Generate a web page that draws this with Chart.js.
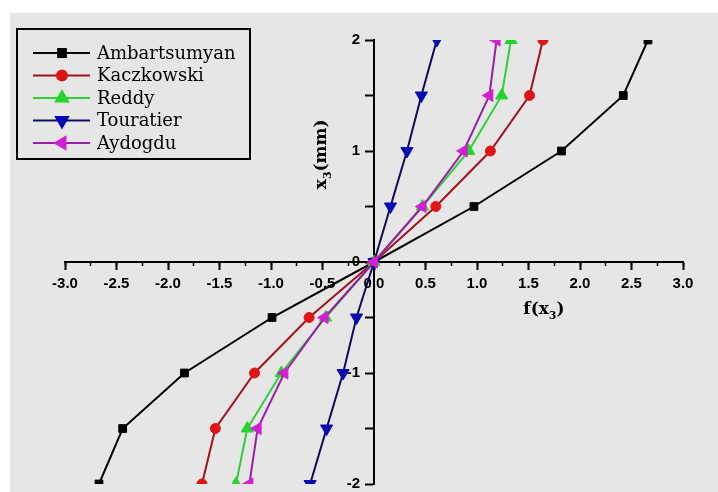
<!DOCTYPE html>
<html lang="en">
<head>
    <meta charset="UTF-8">
    <title>Bending function f(x3)</title>
    <style>
        html, body { margin: 0; padding: 0; background: #ffffff; }
        #wrap { position: relative; width: 718px; height: 492px; overflow: hidden; }
        #panel { position: absolute; left: 10px; top: 13px; right: 0; bottom: 0; background: #e6e6e6; }
        #plot { position: absolute; left: 0; top: 0; }
    </style>
</head>
<body>
<div id="wrap">
    <div id="panel"></div>
    <canvas id="plot" width="718" height="492"></canvas>
</div>

<script src="https://cdn.jsdelivr.net/npm/chart.js"></script>
<script>
    // thickness coordinate x3 (mm)
    const x3 = [-2, -1.5, -1, -0.5, 0, 0.5, 1, 1.5, 2];

    // shear shape function f(x3) for each theory
    const ambartsumyan = [-2.67, -2.44, -1.84, -0.99, 0, 0.97, 1.82, 2.42, 2.66];
    const kaczkowski   = [-1.67, -1.54, -1.16, -0.63, 0, 0.60, 1.13, 1.51, 1.64];
    const reddy        = [-1.34, -1.23, -0.90, -0.47, 0, 0.47, 0.92, 1.24, 1.33];
    const touratier    = [-0.62, -0.46, -0.30, -0.17, 0, 0.16, 0.32, 0.46, 0.61];
    const aydogdu      = [-1.21, -1.13, -0.87, -0.48, 0, 0.47, 0.87, 1.12, 1.19];

    const xTicks = [-3, -2.5, -2, -1.5, -1, -0.5, 0, 0.5, 1, 1.5, 2, 2.5, 3];
    const yLabelValues = [2, 1, 0, -1, -2];

    const toPoints = (xs) => xs.map((v, i) => ({ x: v, y: x3[i] }));

    const series = [
        { label: 'Ambartsumyan', data: ambartsumyan, line: '#000000', fill: '#000000', style: 'rect',     rot: 0,   r: 5.5, order: 5 },
        { label: 'Kaczkowski',   data: kaczkowski,   line: '#a0141e', fill: '#dd1515', style: 'circle',   rot: 0,   r: 5,   order: 4 },
        { label: 'Reddy',        data: reddy,        line: '#2fcf3a', fill: '#22d62a', style: 'triangle', rot: 0,   r: 7,   order: 3 },
        { label: 'Touratier',    data: touratier,    line: '#0c0c5c', fill: '#0808b4', style: 'triangle', rot: 180, r: 7,   order: 2 },
        { label: 'Aydogdu',      data: aydogdu,      line: '#9a1fa8', fill: '#d21fd2', style: 'triangle', rot: -90, r: 7,   order: 1 }
    ];

    const tickFont = { family: '"Liberation Sans", Arial, sans-serif', size: 15, weight: 'bold' };

    // boxed legend in the upper-left corner, line + marker + serif label
    const boxLegend = {
        id: 'boxLegend',
        afterDraw(chart) {
            const ctx = chart.ctx;
            ctx.save();
            ctx.lineWidth = 2;
            ctx.strokeStyle = '#000';
            ctx.strokeRect(17, 29, 233, 130);
            ctx.font = '18px "DejaVu Serif"';
            ctx.textBaseline = 'middle';
            series.forEach((s, i) => {
                const y = 53 + i * 22.5;
                ctx.strokeStyle = s.line;
                ctx.lineWidth = 2;
                ctx.beginPath();
                ctx.moveTo(33, y);
                ctx.lineTo(90, y);
                ctx.stroke();
                ctx.fillStyle = s.fill;
                ctx.strokeStyle = s.fill;
                Chart.helpers.drawPoint(ctx, { pointStyle: s.style, rotation: s.rot, radius: s.r, borderWidth: 1 }, 62, y);
                ctx.fillStyle = '#000';
                ctx.fillText(s.label, 97, y + 1);
            });
            ctx.restore();
        }
    };

    // writes "base" followed by a lowered small "3" and an optional tail
    function drawSub(ctx, base, tail, x, y, size) {
        ctx.font = 'bold ' + size + 'px "DejaVu Serif"';
        const wb = ctx.measureText(base).width;
        ctx.font = 'bold ' + Math.round(size * 0.62) + 'px "DejaVu Serif"';
        const ws = ctx.measureText('3').width;
        ctx.font = 'bold ' + size + 'px "DejaVu Serif"';
        const wt = ctx.measureText(tail).width;
        let cx = x - (wb + ws + wt) / 2;
        ctx.textAlign = 'left';
        ctx.fillText(base, cx, y);
        cx += wb;
        ctx.font = 'bold ' + Math.round(size * 0.62) + 'px "DejaVu Serif"';
        ctx.fillText('3', cx, y + size * 0.35);
        cx += ws;
        ctx.font = 'bold ' + size + 'px "DejaVu Serif"';
        ctx.fillText(tail, cx, y);
    }

    // y tick labels beside the crossing axis, plus the two axis titles
    const axisText = {
        id: 'axisText',
        beforeDatasetsDraw(chart) {
            const { ctx, scales: { x, y } } = chart;
            const x0 = x.getPixelForValue(0);
            ctx.save();
            ctx.fillStyle = '#000';
            ctx.font = 'bold 15px "Liberation Sans", Arial, sans-serif';
            ctx.textAlign = 'right';
            ctx.textBaseline = 'middle';
            yLabelValues.forEach(v => ctx.fillText(String(v), x0 - 14, y.getPixelForValue(v)));
            ctx.restore();
        },
        afterDraw(chart) {
            const { ctx, scales: { x, y } } = chart;
            ctx.save();
            ctx.fillStyle = '#000';
            ctx.textBaseline = 'middle';
            drawSub(ctx, 'f(x', ')', x.getPixelForValue(1.65), y.getPixelForValue(0) + 48, 17);
            ctx.translate(x.getPixelForValue(0) - 52, y.getPixelForValue(0.97));
            ctx.rotate(-Math.PI / 2);
            drawSub(ctx, 'x', '(mm)', 0, 0, 17);
            ctx.restore();
        }
    };

    new Chart(document.getElementById('plot').getContext('2d'), {
        type: 'scatter',
        data: {
            datasets: series.map(s => ({
                label: s.label,
                data: toPoints(s.data),
                showLine: true,
                borderColor: s.line,
                borderWidth: 2,
                pointStyle: s.style,
                pointRotation: s.rot,
                pointRadius: s.r,
                pointBackgroundColor: s.fill,
                pointBorderColor: s.fill,
                pointBorderWidth: 1,
                order: s.order
            }))
        },
        options: {
            responsive: false,
            animation: false,
            layout: { padding: { left: 65, right: 35, top: 40, bottom: 3 } },
            plugins: { legend: { display: false }, tooltip: { enabled: false } },
            scales: {
                x: {
                    type: 'linear',
                    position: { y: 0 },
                    min: -3, max: 3,
                    afterBuildTicks: (axis) => { axis.ticks = xTicks.map(v => ({ value: v })); },
                    grid: { drawOnChartArea: false, drawTicks: true, tickLength: 7, tickWidth: 2, tickColor: '#000' },
                    border: { display: true, color: '#000', width: 2 },
                    ticks: {
                        autoSkip: false, maxRotation: 0, padding: 6, color: '#000', font: tickFont,
                        callback: (v) => v.toFixed(1)
                    }
                },
                xMinor: {
                    type: 'linear',
                    axis: 'x',
                    position: { y: 0 },
                    min: -3, max: 3,
                    ticks: { display: false, stepSize: 0.25 },
                    grid: { drawOnChartArea: false, drawTicks: true, tickLength: 4, tickWidth: 1.5, tickColor: '#000' },
                    border: { display: false }
                },
                y: {
                    type: 'linear',
                    position: { x: 0 },
                    min: -2, max: 2,
                    grid: { drawOnChartArea: false, drawTicks: true, tickLength: 8, tickWidth: 2, tickColor: '#000' },
                    border: { display: true, color: '#000', width: 2 },
                    ticks: { stepSize: 0.5, display: false }
                }
            }
        },
        plugins: [boxLegend, axisText]
    });
</script>
</body>
</html>
